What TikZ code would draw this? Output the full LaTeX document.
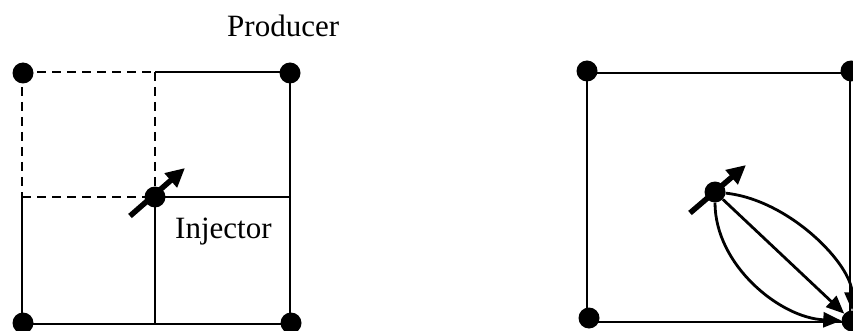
\documentclass[tikz,border=0pt]{standalone}
\usepackage{fontspec}
\setmainfont{Liberation Serif}
\usetikzlibrary{arrows.meta}
\begin{document}
\begin{tikzpicture}[x=1pt,y=-1pt,
  dot/.style={circle,fill=black,inner sep=0pt,minimum size=21pt},
  gridline/.style={line width=2.8pt},
  dashline/.style={line width=2.8pt,dash pattern=on 9pt off 6pt},
  bigarrow/.style={line width=5.5pt,-{Triangle[length=19pt,width=18pt]}},
  flow/.style={line width=2.8pt,-{Triangle[length=18pt,width=15pt]}},
  lbl/.style={font=\fontsize{31}{36}\selectfont,inner sep=0pt,anchor=base west}]
\useasboundingbox (0,0) rectangle (853,331);
% ---------- left diagram ----------
\coordinate (tl) at (22,72);
\coordinate (tm) at (155,72);
\coordinate (tr) at (290,72);
\coordinate (ml) at (22,197);
\coordinate (mm) at (155,197);
\coordinate (mr) at (290,197);
\coordinate (bl) at (22,324);
\coordinate (bm) at (155,324);
\coordinate (br) at (290,324);
\draw[dashline] (tl) -- (tm);
\draw[dashline] (tl) -- (ml);
\draw[dashline] (tm) -- (mm);
\draw[dashline] (ml) -- (mm);
\draw[gridline] (tm) -- (tr) -- (br) -- (bl) -- (ml);
\draw[gridline] (mm) -- (mr);
\draw[gridline] (mm) -- (bm);
\node[dot] (Ltl) at (23,73) {};
\node[dot] (Ltr) at (290,73) {};
\node[dot] (Lbl) at (23,323) {};
\node[dot] (Lbr) at (291,323) {};
\node[dot] (Linj) at (mm) {};
\coordinate (La) at (130,216);
\coordinate (Lb) at (185,168);
\draw[bigarrow] (La) -- (Lb);
\node[lbl] (prod) at (227,37) {Producer};
\node[lbl] (injl) at (175,238) {Injector};
% ---------- right diagram ----------
\coordinate (rtl) at (587,73);
\coordinate (rtr) at (850,73);
\coordinate (rbl) at (587,322);
\coordinate (rbr) at (850,322);
\draw[gridline,line width=2.4pt] (rtl) -- (rtr) -- (rbr) -- (rbl) -- cycle;
\node[dot] (Rtl) at (587,71) {};
\node[dot] (Rtr) at (851,71) {};
\node[dot] (Rbl) at (589,318) {};
\node[dot] (Rbr) at (852,321) {};
\node[dot] (Rinj) at (715,192) {};
\coordinate (Ra) at (690,213);
\coordinate (Rb) at (746,165);
\draw[bigarrow] (Ra) -- (Rb);
\draw[flow] (Rinj) -- (Rbr);
\draw[flow] (Rinj) .. controls (790,200) and (852,265) .. (Rbr);
\draw[flow] (Rinj) .. controls (715,265) and (780,318) .. (Rbr);
\end{tikzpicture}
\end{document}
